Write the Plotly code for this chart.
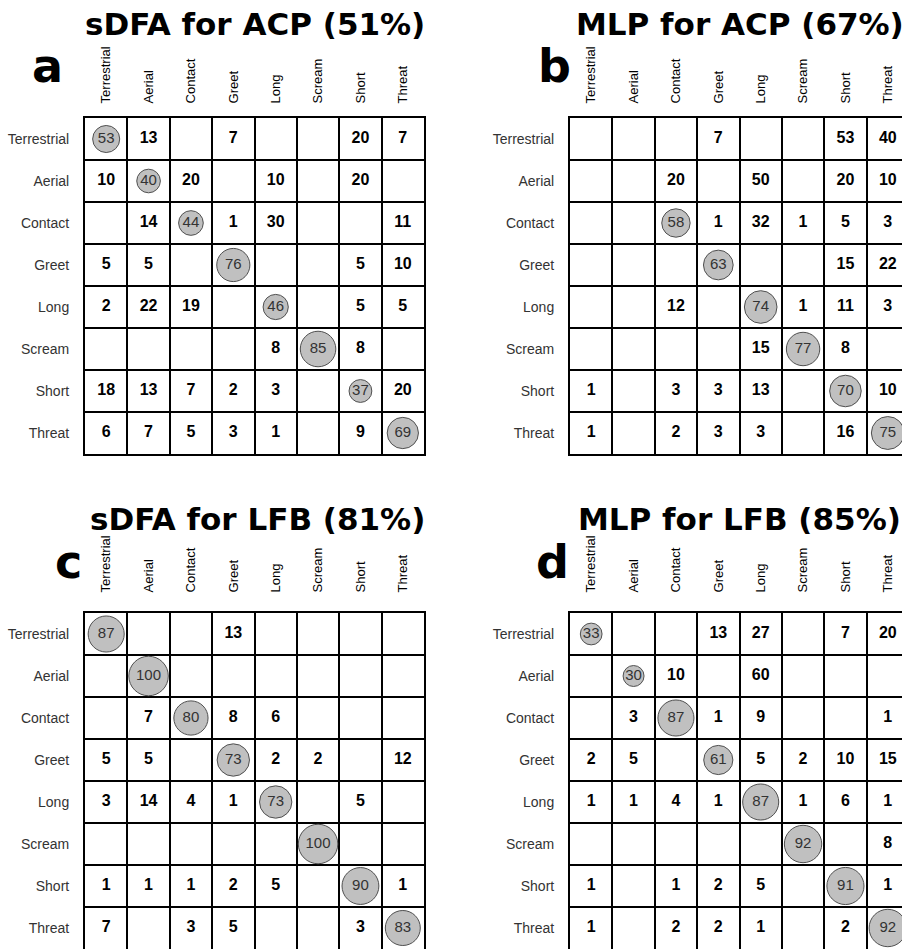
import plotly.graph_objects as go

categories = ["Terrestrial", "Aerial", "Contact", "Greet", "Long", "Scream", "Short", "Threat"]

titles = ["sDFA for ACP (51%)", "MLP for ACP (67%)", "sDFA for LFB (81%)", "MLP for LFB (85%)"]
panel_letters = ["a", "b", "c", "d"]

N = None
sdfa_acp = [
    [53, 13, N, 7, N, N, 20, 7],
    [10, 40, 20, N, 10, N, 20, N],
    [N, 14, 44, 1, 30, N, N, 11],
    [5, 5, N, 76, N, N, 5, 10],
    [2, 22, 19, N, 46, N, 5, 5],
    [N, N, N, N, 8, 85, 8, N],
    [18, 13, 7, 2, 3, N, 37, 20],
    [6, 7, 5, 3, 1, N, 9, 69],
]
mlp_acp = [
    [N, N, N, 7, N, N, 53, 40],
    [N, N, 20, N, 50, N, 20, 10],
    [N, N, 58, 1, 32, 1, 5, 3],
    [N, N, N, 63, N, N, 15, 22],
    [N, N, 12, N, 74, 1, 11, 3],
    [N, N, N, N, 15, 77, 8, N],
    [1, N, 3, 3, 13, N, 70, 10],
    [1, N, 2, 3, 3, N, 16, 75],
]
sdfa_lfb = [
    [87, N, N, 13, N, N, N, N],
    [N, 100, N, N, N, N, N, N],
    [N, 7, 80, 8, 6, N, N, N],
    [5, 5, N, 73, 2, 2, N, 12],
    [3, 14, 4, 1, 73, N, 5, N],
    [N, N, N, N, N, 100, N, N],
    [1, 1, 1, 2, 5, N, 90, 1],
    [7, N, 3, 5, N, N, 3, 83],
]
mlp_lfb = [
    [33, N, N, 13, 27, N, 7, 20],
    [N, 30, 10, N, 60, N, N, N],
    [N, 3, 87, 1, 9, N, N, 1],
    [2, 5, N, 61, 5, 2, 10, 15],
    [1, 1, 4, 1, 87, 1, 6, 1],
    [N, N, N, N, N, 92, N, 8],
    [1, N, 1, 2, 5, N, 91, 1],
    [1, N, 2, 2, 1, N, 2, 92],
]
matrices = [sdfa_acp, mlp_acp, sdfa_lfb, mlp_lfb]

# ---- layout geometry (pixels) ----
W, H = 912, 952
grid_x = [(85, 424), (570, 909), (85, 424), (570, 909)]
grid_y = [(118, 454), (118, 454), (613, 949), (613, 949)]
col_standoff = [10, 10, 16, 16]
title_pos = [(254.5, 24), (739.5, 24), (257.5, 519), (739.5, 519)]
letter_pos = [(47, 66), (554, 66), (68, 562), (552, 562)]

fx = lambda px: px / W
fy = lambda py: 1 - py / H

fig = go.Figure()
n = len(categories)
idx = list(range(n))
half = [i + 0.5 for i in range(n - 1)]

for p, mat in enumerate(matrices):
    xa = "x" if p == 0 else f"x{p+1}"
    ya = "y" if p == 0 else f"y{p+1}"
    ox, oy, ot = [], [], []
    dx, dy, dt, ds = [], [], [], []
    for r in range(n):
        for c in range(n):
            v = mat[r][c]
            if v is None:
                continue
            if r == c:
                dx.append(c); dy.append(r); dt.append(str(v)); ds.append(13 + 0.265 * v)
            else:
                ox.append(c); oy.append(r); ot.append(str(v))
    fig.add_trace(go.Scatter(
        x=ox, y=oy, text=ot, mode="text", xaxis=xa, yaxis=ya,
        textfont=dict(family="Liberation Sans", size=16, color="#000000", weight="bold"),
        hoverinfo="skip", showlegend=False))
    fig.add_trace(go.Scatter(
        x=dx, y=dy, text=dt, mode="markers+text", xaxis=xa, yaxis=ya,
        marker=dict(size=ds, color="#c0c0c0", line=dict(color="#505050", width=1), opacity=1),
        textfont=dict(family="Liberation Sans", size=15, color="#333333"),
        textposition="middle center",
        hoverinfo="skip", showlegend=False))

    axkey = "xaxis" if p == 0 else f"xaxis{p+1}"
    aykey = "yaxis" if p == 0 else f"yaxis{p+1}"
    x0, x1 = grid_x[p]
    y0, y1 = grid_y[p]
    fig.layout[axkey] = dict(
        domain=[fx(x0), fx(x1)], range=[-0.5, n - 0.5], anchor=ya,
        tickmode="array", tickvals=idx, ticktext=categories, side="top", tickangle=-90,
        tickfont=dict(family="Liberation Sans", size=13, color="#000000"),
        ticks="", ticklabelstandoff=col_standoff[p],
        showline=True, mirror=True, linecolor="black", linewidth=2,
        showgrid=False, zeroline=False, fixedrange=True,
        minor=dict(tickmode="array", tickvals=half, showgrid=True, gridcolor="black", gridwidth=2, ticks=""),
    )
    fig.layout[aykey] = dict(
        domain=[fy(y1), fy(y0)], range=[n - 0.5, -0.5], anchor=xa,
        tickmode="array", tickvals=idx, ticktext=categories,
        tickfont=dict(family="Liberation Sans", size=14, color="#333333"),
        ticks="", ticklabelstandoff=11,
        showline=True, mirror=True, linecolor="black", linewidth=2,
        showgrid=False, zeroline=False, fixedrange=True,
        minor=dict(tickmode="array", tickvals=half, showgrid=True, gridcolor="black", gridwidth=2, ticks=""),
    )
    tx, ty = title_pos[p]
    fig.add_annotation(text=titles[p], x=fx(tx), y=fy(ty), xref="paper", yref="paper",
                       xanchor="center", yanchor="middle", showarrow=False,
                       font=dict(family="DejaVu Sans", size=31, color="black", weight="bold"))
    lx, ly = letter_pos[p]
    fig.add_annotation(text=panel_letters[p], x=fx(lx), y=fy(ly), xref="paper", yref="paper",
                       xanchor="center", yanchor="middle", showarrow=False,
                       font=dict(family="DejaVu Sans", size=46, color="black", weight="bold"))

fig.update_layout(
    width=W, height=H, margin=dict(l=0, r=0, t=0, b=0),
    paper_bgcolor="white", plot_bgcolor="white",
)

fig.write_html(
    "out.html",
    post_script="document.documentElement.style.overflow='hidden';document.body.style.overflow='hidden';",
)
